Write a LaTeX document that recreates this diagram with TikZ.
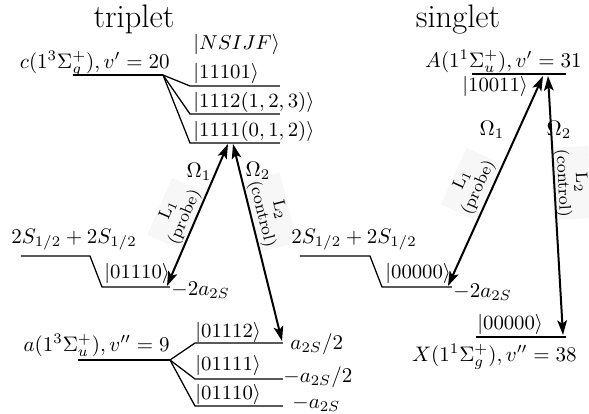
\RequirePackage{fix-cm}
\documentclass[tikz,border=0pt]{standalone}
\usepackage{amsmath}
\usetikzlibrary{arrows.meta}
\begin{document}
\begin{tikzpicture}[x=0.476pt,y=-0.476pt,
 lvl/.style={line width=0.6pt},
 trans/.style={line width=0.95pt,{Stealth[length=7pt,width=4.6pt,inset=1.6pt]}-{Stealth[length=7pt,width=4.6pt,inset=1.6pt]}},
 lab/.style={inner sep=0pt},
 ket/.style={inner sep=0pt, font=\fontsize{9.6}{11}\selectfont},
 ttl/.style={font=\fontsize{15.5}{18}\selectfont, inner sep=0pt},
 laser/.style={font=\fontsize{8}{8.6}\selectfont, align=center, fill=black!3, inner sep=1pt}]
\useasboundingbox (0,0) rectangle (589,414);

% titles
\node[ttl, anchor=base] (tt) at (134,27) {triplet};
\node[ttl, anchor=base] (st) at (458,27) {singlet};

% ---------------- triplet ----------------
\draw[lvl] (73,75) -- (163,75) coordinate (cs);
\draw[lvl] (cs) -- (190,86) -- (280,86);
\draw[lvl] (cs) -- (190,114) -- (280,114);
\draw[lvl] (cs) -- (190,143) -- (280,143);
\node[lab, anchor=base east] (clab) at (170,68) {$c(1^3\Sigma_g^+), v'=20$};
\node[ket, anchor=base west] (nsijf) at (193,49) {$|NSIJF\rangle$};
\node[ket, anchor=base west] (k11101) at (193,78) {$|11101\rangle$};
\node[ket, anchor=base west] (k1112) at (193,107) {$|1112(1,2,3)\rangle$};
\node[ket, anchor=base west] (k1111) at (193,136) {$|1111(0,1,2)\rangle$};

\draw[lvl] (21,256) -- (90,256) -- (102,287) -- (170,287);
\node[lab, anchor=base west] (tS) at (11,243) {$2S_{1/2}+2S_{1/2}$};
\node[ket, anchor=base west] (t01110a) at (104,278) {$|01110\rangle$};
\node[lab, anchor=west] (tm2a) at (171,290) {$-2a_{2S}$};

\draw[lvl] (78,360) -- (170,360) coordinate (as);
\draw[lvl] (as) -- (195,343) -- (283,343);
\draw[lvl] (as) -- (195,379) -- (283,379);
\draw[lvl] (as) -- (195,406) -- (283,406);
\node[lab, anchor=base east] (alab) at (170,351) {$a(1^3\Sigma_u^+), v''=9$};
\node[ket, anchor=base west] (k01112) at (195,337) {$|01112\rangle$};
\node[ket, anchor=base west] (k01111) at (195,370) {$|01111\rangle$};
\node[ket, anchor=base west] (k01110) at (195,399) {$|01110\rangle$};
\node[lab, anchor=base west] (e1) at (290,349) {$a_{2S}/2$};
\node[lab, anchor=base west] (e2) at (283,382) {$-a_{2S}/2$};
\node[lab, anchor=base west] (e3) at (292,408) {$-a_{2S}$};

\coordinate (t1top) at (228,144);
\coordinate (t1bot) at (167,286);
\coordinate (t2top) at (233,144);
\coordinate (t2bot) at (282,341);
\node[laser, rotate=66.5] (tL1) at (177,214) {L$_1$\\(probe)};
\node[laser, rotate=-76] (tL2) at (270,212) {L$_2$\\(control)};
\draw[trans] (t1bot) -- (t1top);
\draw[trans] (t2top) -- (t2bot);
\node (tO1) at (199,172) {$\Omega_1$};
\node (tO2) at (258,171) {$\Omega_2$};

% ---------------- singlet ----------------
\draw[lvl] (472,74) -- (566,74);
\node[lab, anchor=base east] (Alab) at (582,67) {$A(1^1\Sigma_u^+), v'=31$};
\node[ket, anchor=base west] (k10011) at (462,91) {$|10011\rangle$};

\draw[lvl] (300,256) -- (370,256) -- (382,287) -- (452,287);
\node[lab, anchor=base west] (sS) at (291,243) {$2S_{1/2}+2S_{1/2}$};
\node[ket, anchor=base west] (s00000a) at (385,278) {$|00000\rangle$};
\node[lab, anchor=west] (sm2a) at (453,292) {$-2a_{2S}$};

\draw[lvl] (476,337) -- (566,337);
\node[ket, anchor=base west] (s00000b) at (477,329) {$|00000\rangle$};
\node[lab, anchor=base east] (Xlab) at (577,361) {$X(1^1\Sigma_g^+), v''=38$};

\coordinate (s1top) at (543,76);
\coordinate (s1bot) at (448,286);
\coordinate (s2top) at (548,76);
\coordinate (s2bot) at (563,335);
\node[laser, rotate=65.5] (sL1) at (471,184) {L$_1$\\(probe)};
\node[laser, rotate=-87] (sL2) at (571,183) {L$_2$\\(control)};
\draw[trans] (s1bot) -- (s1top);
\draw[trans] (s2top) -- (s2bot);
\node (sO1) at (492,130) {$\Omega_1$};
\node (sO2) at (559,130) {$\Omega_2$};
\end{tikzpicture}
\end{document}
